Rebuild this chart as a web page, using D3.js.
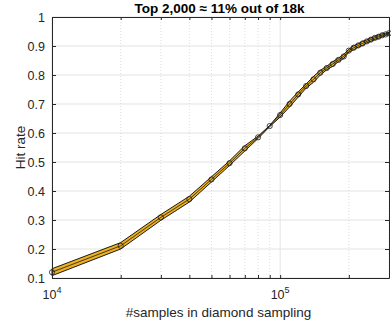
<!DOCTYPE html>
<html>
<head>
<meta charset="utf-8">
<script src="https://cdn.jsdelivr.net/npm/d3@7"></script>
<style>
  body { margin: 0; background: #fff; }
  text { font-family: "Liberation Sans", Arial, sans-serif; }
</style>
</head>
<body>
<div id="chart"></div>
<script>
var width = 391,
    height = 326;

var margin = {top: 17, right: 2, bottom: 48, left: 52};

// samples (x) and hit rate mean / half-width of band
var samples = [1e4, 2e4, 3e4, 4e4, 5e4, 6e4, 7e4, 8e4, 9e4, 1e5,
  1.1e5, 1.2e5, 1.3e5, 1.4e5, 1.5e5, 1.6e5, 1.7e5, 1.8e5, 1.9e5, 2e5,
  2.1e5, 2.2e5, 2.3e5, 2.4e5, 2.5e5, 2.6e5, 2.7e5, 2.8e5, 2.9e5, 3e5];
var hitRate = [0.120, 0.211, 0.309, 0.372, 0.440, 0.496, 0.547, 0.585, 0.624, 0.662,
  0.700, 0.733, 0.762, 0.785, 0.808, 0.824, 0.838, 0.852, 0.864, 0.884,
  0.894, 0.902, 0.909, 0.916, 0.922, 0.928, 0.932, 0.937, 0.940, 0.944];
var spread = [0.012, 0.011, 0.010, 0.010, 0.009, 0.008, 0.009, 0.004, 0.002, 0.007,
  0.010, 0.009, 0.007, 0.010, 0.008, 0.006, 0.008, 0.006, 0.007, 0.005,
  0.007, 0.006, 0.007, 0.005, 0.006, 0.005, 0.006, 0.005, 0.004, 0.003];
var yTicks = [0.1, 0.2, 0.3, 0.4, 0.5, 0.6, 0.7, 0.8, 0.9, 1];
var xMajor = [1e4, 1e5];
var xMinor = [2e4, 3e4, 4e4, 5e4, 6e4, 7e4, 8e4, 9e4, 2e5, 3e5];

var data = samples.map(function(s, i) {
  return {x: s, y: hitRate[i], lo: hitRate[i] - spread[i], hi: hitRate[i] + spread[i]};
});

var x = d3.scaleLog().domain([1e4, 3e5]).range([margin.left, width - margin.right]);
var y = d3.scaleLinear().domain([0.1, 1]).range([height - margin.bottom, margin.top]);

var svg = d3.select('#chart').append('svg')
  .attr('width', width)
  .attr('height', height);

var x0 = x.range()[0], x1 = x.range()[1];
var y0 = y.range()[0], y1 = y.range()[1];

// grid
svg.append('g').selectAll('line').data(yTicks).join('line')
  .attr('x1', x0).attr('x2', x1)
  .attr('y1', d => y(d)).attr('y2', d => y(d))
  .attr('stroke', '#e3e3e3').attr('stroke-width', 1);
svg.append('g').selectAll('line').data(xMajor).join('line')
  .attr('x1', d => x(d)).attr('x2', d => x(d))
  .attr('y1', y0).attr('y2', y1)
  .attr('stroke', '#e3e3e3').attr('stroke-width', 1);
svg.append('g').selectAll('line').data(xMinor).join('line')
  .attr('x1', d => x(d)).attr('x2', d => x(d))
  .attr('y1', y0).attr('y2', y1)
  .attr('stroke', '#d6d6d6').attr('stroke-width', 0.8)
  .attr('stroke-dasharray', '1,2');

// band
var area = d3.area()
  .x(d => x(d.x))
  .y0(d => y(d.lo))
  .y1(d => y(d.hi));
svg.append('path').datum(data)
  .attr('d', area)
  .attr('fill', '#EDB120')
  .attr('stroke', '#1a1a1a')
  .attr('stroke-width', 1);

var line = d3.line().x(d => x(d.x)).y(d => y(d.y));
svg.append('path').datum(data)
  .attr('d', line)
  .attr('fill', 'none')
  .attr('stroke', '#1a1a1a')
  .attr('stroke-width', 0.8);

svg.append('g').selectAll('circle').data(data).join('circle')
  .attr('cx', d => x(d.x)).attr('cy', d => y(d.y))
  .attr('r', 2.6)
  .attr('fill', 'none')
  .attr('stroke', '#1a1a1a')
  .attr('stroke-width', 0.8);

// axes box with inward ticks
var axisColor = '#262626';
var gx = svg.append('g').attr('transform', 'translate(0,' + y0 + ')')
  .call(d3.axisBottom(x).tickValues(xMajor.concat(xMinor)).tickSizeInner(-3).tickSizeOuter(0).tickFormat(''));
var gxt = svg.append('g').attr('transform', 'translate(0,' + y1 + ')')
  .call(d3.axisTop(x).tickValues(xMajor.concat(xMinor)).tickSizeInner(-3).tickSizeOuter(0).tickFormat(''));
var gy = svg.append('g').attr('transform', 'translate(' + x0 + ',0)')
  .call(d3.axisLeft(y).tickValues(yTicks).tickSizeInner(-4).tickSizeOuter(0).tickPadding(7)
    .tickFormat(d => d === 1 ? '1' : d3.format('.1f')(d)));
var gyr = svg.append('g').attr('transform', 'translate(' + x1 + ',0)')
  .call(d3.axisRight(y).tickValues(yTicks).tickSizeInner(-4).tickSizeOuter(0).tickFormat(''));

[gx, gxt, gy, gyr].forEach(function(g) {
  g.select('.domain').attr('stroke', axisColor);
  g.selectAll('.tick line').attr('stroke', axisColor);
});
gy.selectAll('.tick text')
  .attr('fill', axisColor)
  .style('font-size', '12.5px')
  .style('font-family', '"Liberation Sans", Arial, sans-serif');

// x tick labels 10^4, 10^5
xMajor.forEach(function(v) {
  var t = svg.append('text')
    .attr('x', x(v)).attr('y', y0 + 21)
    .attr('text-anchor', 'middle')
    .attr('fill', axisColor)
    .style('font-size', '12.5px');
  t.append('tspan').text('10');
  t.append('tspan').attr('dy', -6).style('font-size', '9px').text(Math.round(Math.log10(v)));
});

// labels
svg.append('text')
  .attr('x', (x0 + x1) / 2 - 2).attr('y', 317)
  .attr('text-anchor', 'middle')
  .attr('fill', axisColor)
  .style('font-size', '13.5px')
  .text('#samples in diamond sampling');

svg.append('text')
  .attr('transform', 'translate(25,' + ((y0 + y1) / 2) + ') rotate(-90)')
  .attr('text-anchor', 'middle')
  .attr('fill', axisColor)
  .style('font-size', '13.5px')
  .text('Hit rate');

svg.append('text')
  .attr('x', (x0 + x1) / 2 - 1).attr('y', 13)
  .attr('text-anchor', 'middle')
  .attr('fill', '#000')
  .style('font-size', '13.5px')
  .style('font-weight', 'bold')
  .text('Top 2,000 \u2248 11% out of 18k');
</script>
</body>
</html>
